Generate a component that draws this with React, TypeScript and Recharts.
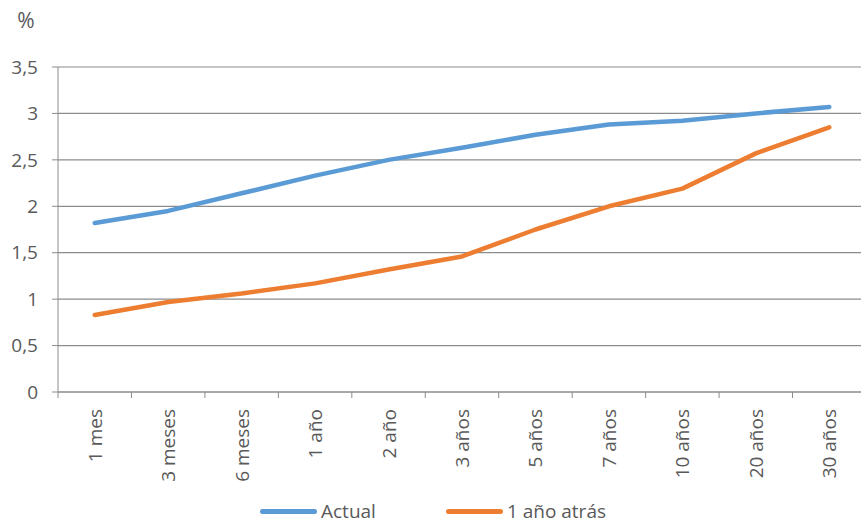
import { CartesianGrid, Legend, Line, LineChart, XAxis, YAxis } from "recharts";

const plazos = [
  "1 mes",
  "3 meses",
  "6 meses",
  "1 año",
  "2 año",
  "3 años",
  "5 años",
  "7 años",
  "10 años",
  "20 años",
  "30 años",
];
const actual = [1.82, 1.95, 2.14, 2.33, 2.5, 2.63, 2.77, 2.88, 2.92, 3.0, 3.07];
const haceUnAnio = [0.83, 0.97, 1.06, 1.17, 1.32, 1.46, 1.75, 2.0, 2.19, 2.57, 2.85];
const yTicks = [0, 0.5, 1, 1.5, 2, 2.5, 3, 3.5];
const boundaryTicks = plazos.map((_, i) => i).concat(plazos.length);

const series = [
  { key: "actual", name: "Actual", color: "#5B9BD5" },
  { key: "previo", name: "1 año atrás", color: "#ED7D31" },
];

const data = plazos.map((p, i) => ({
  x: i + 0.5,
  plazo: p,
  actual: actual[i],
  previo: haceUnAnio[i],
}));

const W = 870;
const H = 524;
const M = { top: 67, right: 4, left: 0, bottom: 0 };
const Y_WIDTH = 58;
const band = (W - M.left - M.right - Y_WIDTH) / plazos.length;

const font = "'Open Sans', sans-serif";
const fs = 19;
const textColor = "#595959";
const gridColor = "#8c8c8c";
const txt = { fontSize: fs, fontFamily: font };

function PlazoTick(props: any) {
  const { x, y, payload } = props;
  const label = plazos[payload.value];
  if (!label) return <g />;
  const bx = x + band / 2 + 7;
  const by = y + 9;
  return (
    <text
      x={bx}
      y={by}
      transform={`rotate(-90 ${bx} ${by})`}
      textAnchor="end"
      fill={textColor}
      style={txt}
    >
      {label}
    </text>
  );
}

function Leyenda() {
  return (
    <div
      style={{
        display: "flex",
        justifyContent: "center",
        alignItems: "center",
        height: 20,
        gap: 70,
        fontFamily: font,
        fontSize: fs,
        color: textColor,
      }}
    >
      {series.map((s) => (
        <div key={s.key} style={{ display: "flex", alignItems: "center", gap: 4 }}>
          <span
            style={{
              display: "inline-block",
              width: 57,
              height: 5,
              borderRadius: 3,
              background: s.color,
            }}
          />
          <span style={{ lineHeight: "19px" }}>{s.name}</span>
        </div>
      ))}
    </div>
  );
}

export default function App() {
  return (
    <div
      style={{
        position: "absolute",
        left: 0,
        top: 0,
        width: 861,
        height: 524,
        overflow: "hidden",
        background: "#fff",
        fontFamily: font,
      }}
    >
      <LineChart width={W} height={H} data={data} margin={M}>
        <CartesianGrid vertical={false} stroke={gridColor} strokeWidth={1.2} />
        <XAxis
          type="number"
          dataKey="x"
          domain={[0, plazos.length]}
          ticks={boundaryTicks}
          interval={0}
          height={112}
          stroke={gridColor}
          tickLine={{ stroke: gridColor }}
          tick={<PlazoTick />}
        />
        <YAxis
          width={Y_WIDTH}
          domain={[0, 3.5]}
          ticks={yTicks}
          interval={0}
          stroke={gridColor}
          tickFormatter={(v: number) => String(v).replace(".", ",")}
          tick={{ fill: textColor, style: txt, dx: -12 }}
          label={{
            value: "%",
            content: (p: any) => (
              <text
                x={26}
                y={(p.viewBox?.y ?? 67) - 39}
                textAnchor="middle"
                fill={textColor}
                style={{ fontSize: 21, fontFamily: font }}
              >
                %
              </text>
            ),
          }}
        />
        <Legend
          verticalAlign="bottom"
          content={<Leyenda />}
          wrapperStyle={{ bottom: 3 }}
        />
        {series.map((s) => (
          <Line
            key={s.key}
            type="linear"
            dataKey={s.key}
            name={s.name}
            stroke={s.color}
            strokeWidth={4.5}
            strokeLinecap="round"
            strokeLinejoin="round"
            dot={false}
            activeDot={false}
            isAnimationActive={false}
          />
        ))}
      </LineChart>
    </div>
  );
}
